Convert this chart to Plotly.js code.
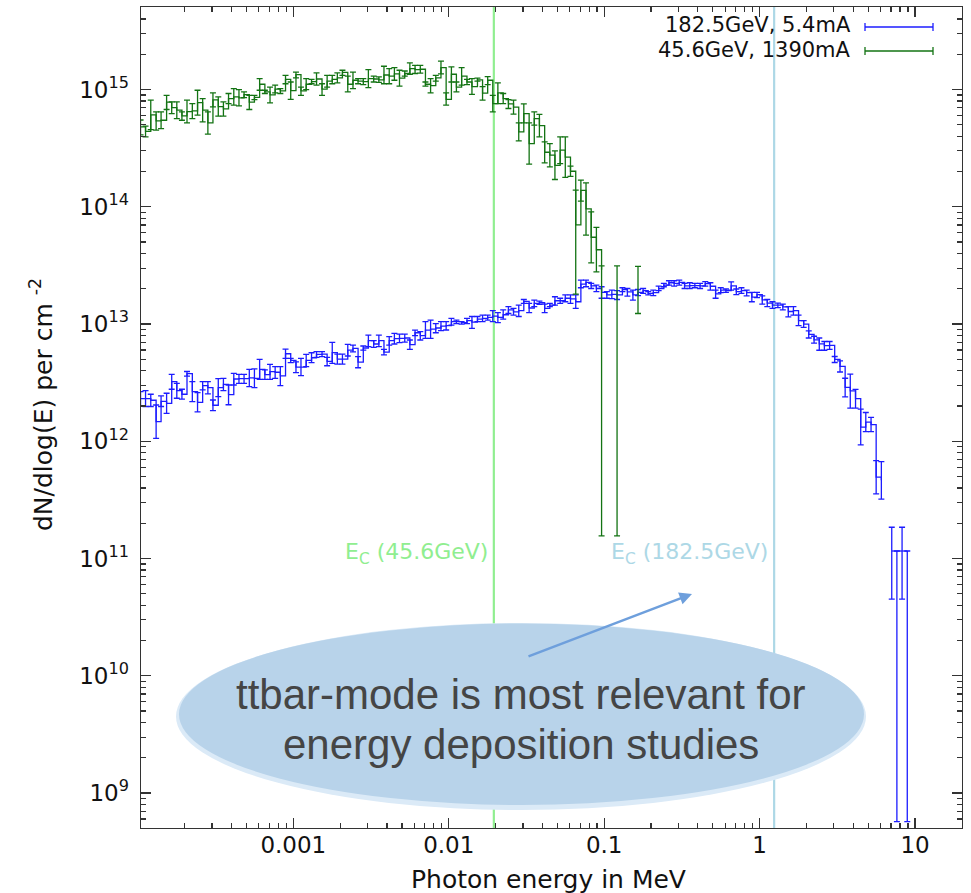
<!DOCTYPE html>
<html><head><meta charset="utf-8">
<script src="https://cdn.plot.ly/plotly-3.0.1.min.js"></script>
<style>html,body{margin:0;padding:0;background:#fff}#chart{width:971px;height:893px}</style>
</head><body><div id="chart"></div>
<script>
// Histogram bin centres (MeV), 30 log bins per decade
const energyMeV = [
1.04e-4,1.12e-4,1.21e-4,1.31e-4,1.41e-4,1.53e-4,1.65e-4,1.78e-4,1.92e-4,2.07e-4,2.24e-4,2.42e-4,2.61e-4,2.82e-4,3.04e-4,3.29e-4,3.55e-4,3.83e-4,4.14e-4,4.47e-4,4.82e-4,5.21e-4,5.62e-4,6.07e-4,6.56e-4,7.08e-4,7.64e-4,8.25e-4,8.91e-4,9.62e-4,
1.04e-3,1.12e-3,1.21e-3,1.31e-3,1.41e-3,1.53e-3,1.65e-3,1.78e-3,1.92e-3,2.07e-3,2.24e-3,2.42e-3,2.61e-3,2.82e-3,3.04e-3,3.29e-3,3.55e-3,3.83e-3,4.14e-3,4.47e-3,4.82e-3,5.21e-3,5.62e-3,6.07e-3,6.56e-3,7.08e-3,7.64e-3,8.25e-3,8.91e-3,9.62e-3,
1.04e-2,1.12e-2,1.21e-2,1.31e-2,1.41e-2,1.53e-2,1.65e-2,1.78e-2,1.92e-2,2.07e-2,2.24e-2,2.42e-2,2.61e-2,2.82e-2,3.04e-2,3.29e-2,3.55e-2,3.83e-2,4.14e-2,4.47e-2,4.82e-2,5.21e-2,5.62e-2,6.07e-2,6.56e-2,7.08e-2,7.64e-2,8.25e-2,8.91e-2,9.62e-2,
1.04e-1,1.12e-1,1.21e-1,1.31e-1,1.41e-1,1.53e-1,1.65e-1,1.78e-1,1.92e-1,2.07e-1,2.24e-1,2.42e-1,2.61e-1,2.82e-1,3.04e-1,3.29e-1,3.55e-1,3.83e-1,4.14e-1,4.47e-1,4.82e-1,5.21e-1,5.62e-1,6.07e-1,6.56e-1,7.08e-1,7.64e-1,8.25e-1,8.91e-1,9.62e-1,
1.04,1.12,1.21,1.31,1.41,1.53,1.65,1.78,1.92,2.07,2.24,2.42,2.61,2.82,3.04,3.29,3.55,3.83,4.14,4.47,4.82,5.21,5.62,6.07,6.56,7.08,7.64,8.25,8.91
];

// 182.5 GeV, 5.4 mA (blue)
const blueVal = [
2.31e12,2.31e12,2.24e12,1.47e12,2.19e12,2.11e12,3.23e12,2.71e12,2.52e12,3.78e12,
2.65e12,2.15e12,2.98e12,2.87e12,2.03e12,2.87e12,3.06e12,2.50e12,3.40e12,3.42e12,
3.42e12,3.47e12,3.44e12,4.11e12,3.70e12,3.93e12,3.88e12,3.61e12,5.58e12,4.90e12,
4.30e12,4.30e12,4.90e12,5.16e12,5.52e12,5.55e12,4.81e12,5.70e12,5.03e12,5.03e12,
6.00e12,6.21e12,4.74e12,6.25e12,7.21e12,6.76e12,7.21e12,5.77e12,7.21e12,7.50e12,
7.55e12,7.60e12,6.67e12,8.43e12,7.96e12,8.89e12,9.06e12,9.25e12,9.6e12,9.7e12,
1.05e13,1.05e13,1.03e13,1.07e13,1.04e13,1.10e13,1.12e13,1.14e13,1.17e13,1.14e13,
1.20e13,1.32e13,1.27e13,1.30e13,1.56e13,1.37e13,1.50e13,1.52e13,1.36e13,1.45e13,
1.58e13,1.58e13,1.66e13,1.64e13,1.55e13,2.19e13,2.27e13,2.12e13,2.01e13,1.86e13,
1.77e13,1.79e13,1.77e13,1.97e13,1.88e13,1.77e13,1.86e13,1.93e13,1.83e13,1.85e13,
2.01e13,2.15e13,2.25e13,2.22e13,2.27e13,2.12e13,2.13e13,2.13e13,2.12e13,2.21e13,
2.10e13,1.81e13,1.95e13,1.93e13,2.12e13,1.89e13,1.93e13,1.85e13,1.70e13,1.78e13,
1.61e13,1.51e13,1.45e13,1.45e13,1.40e13,1.28e13,1.30e13,1.07e13,1.00e13,8.15e12,
7.34e12,6.78e12,6.55e12,6.59e12,5.00e12,4.36e12,2.88e12,2.69e12,2.31e12,1.32e12,
1.46e12,1.39e12,4.95e11,4.65e11,null,1.16e11,1.16e11,1.16e11,1.16e11];
const blueHi = [
2.65e12,2.71e12,2.52e12,2.04e12,2.44e12,2.57e12,3.72e12,3.12e12,2.78e12,3.94e12,
3.23e12,2.60e12,3.23e12,3.23e12,2.25e12,3.42e12,3.44e12,3.02e12,3.80e12,3.72e12,
3.72e12,4.11e12,4.14e12,4.99e12,4.06e12,4.53e12,4.33e12,4.33e12,6.12e12,5.10e12,
4.76e12,5.10e12,5.52e12,5.69e12,5.82e12,5.82e12,5.20e12,6.97e12,5.55e12,5.55e12,
6.70e12,6.62e12,5.27e12,6.50e12,8.06e12,7.21e12,8.06e12,6.08e12,7.80e12,8.33e12,
8.21e12,8.21e12,7.31e12,8.89e12,8.61e12,1.05e13,1.08e13,1.01e13,1.05e13,1.05e13,
1.12e13,1.08e13,1.05e13,1.12e13,1.16e13,1.16e13,1.19e13,1.19e13,1.30e13,1.25e13,
1.32e13,1.41e13,1.36e13,1.45e13,1.62e13,1.50e13,1.60e13,1.57e13,1.48e13,1.50e13,
1.71e13,1.66e13,1.77e13,1.77e13,1.77e13,2.37e13,2.37e13,2.22e13,2.15e13,2.08e13,
1.89e13,1.95e13,1.93e13,2.04e13,2.01e13,1.95e13,1.97e13,2.01e13,1.89e13,1.95e13,
2.11e13,2.22e13,2.34e13,2.34e13,2.37e13,2.22e13,2.25e13,2.22e13,2.22e13,2.30e13,
2.25e13,1.95e13,2.04e13,1.99e13,2.29e13,1.99e13,2.04e13,1.95e13,1.86e13,1.86e13,
1.74e13,1.62e13,1.55e13,1.51e13,1.48e13,1.41e13,1.41e13,1.19e13,1.07e13,8.73e12,
7.87e12,7.60e12,7.10e12,7.10e12,5.29e12,4.86e12,3.45e12,3.74e12,2.77e12,1.88e12,
1.76e12,1.60e12,6.84e11,6.70e11,null,1.85e11,1.16e11,1.85e11,1.16e11];
const blueLo = [
2.00e12,1.98e12,1.98e12,1.06e12,1.98e12,1.73e12,2.78e12,2.33e12,2.29e12,3.60e12,
2.18e12,1.78e12,2.74e12,2.54e12,1.83e12,2.40e12,2.71e12,2.05e12,3.02e12,3.12e12,
3.12e12,2.93e12,2.87e12,3.38e12,3.38e12,3.38e12,3.44e12,2.98e12,5.10e12,4.68e12,
3.85e12,3.63e12,4.33e12,4.68e12,5.20e12,5.27e12,4.41e12,4.62e12,4.56e12,4.56e12,
5.34e12,5.80e12,4.24e12,6.00e12,6.41e12,6.33e12,6.41e12,5.45e12,6.62e12,6.76e12,
6.93e12,7.02e12,6.08e12,7.96e12,7.31e12,7.55e12,7.55e12,8.43e12,8.8e12,8.9e12,
9.8e12,1.01e13,1.00e13,1.01e13,9.2e12,1.05e13,1.05e13,1.08e13,1.05e13,1.03e13,
1.10e13,1.23e13,1.19e13,1.16e13,1.50e13,1.25e13,1.41e13,1.47e13,1.25e13,1.41e13,
1.45e13,1.50e13,1.55e13,1.50e13,1.36e13,2.04e13,2.08e13,2.01e13,1.89e13,1.66e13,
1.66e13,1.65e13,1.62e13,1.89e13,1.73e13,1.60e13,1.75e13,1.83e13,1.77e13,1.75e13,
1.93e13,2.08e13,2.15e13,2.11e13,2.15e13,2.01e13,2.01e13,2.04e13,2.01e13,2.11e13,
1.95e13,1.66e13,1.85e13,1.86e13,1.95e13,1.78e13,1.83e13,1.74e13,1.55e13,1.68e13,
1.48e13,1.41e13,1.36e13,1.38e13,1.32e13,1.15e13,1.19e13,9.69e12,9.36e12,7.60e12,
6.87e12,5.98e12,5.98e12,6.07e12,4.70e12,3.90e12,2.39e12,1.92e12,1.92e12,9.33e11,
1.21e12,1.21e12,3.56e11,3.21e11,null,4.51e10,5.7e8,4.51e10,5.7e8];

// 45.6 GeV, 1390 mA (green)
const greenVal = [
4.8e14,4.39e14,6.08e14,5.40e14,5.47e14,7.80e14,7.02e14,6.67e14,5.97e14,6.49e14,
6.58e14,7.75e14,6.67e14,5.20e14,8.16e14,7.16e14,6.85e14,8.37e14,8.65e14,8.48e14,
9.06e14,7.80e14,8.59e14,1.11e15,9.55e14,9.0e14,1.01e15,9.73e14,1.22e15,9.8e14,
1.34e15,9.73e14,1.11e15,1.17e15,1.23e15,1.01e15,1.18e15,1.22e15,1.26e15,1.40e15,
1.11e15,1.20e15,1.18e15,1.17e15,1.24e15,1.23e15,1.21e15,1.33e15,1.30e15,1.36e15,
1.25e15,1.37e15,1.51e15,1.48e15,1.49e15,1.11e15,1.08e15,1.26e15,1.54e15,8.26e14,
1.35e15,1.05e15,1.30e15,1.16e15,1.06e15,1.21e15,9.31e14,1.20e15,7.59e14,9.37e14,
8.37e14,7.54e14,7.07e14,4.36e14,6.24e14,3.46e14,5.66e14,4.93e14,2.92e14,2.76e14,
2.26e14,3.04e14,2.65e14,2.01e14,7.0e13,1.38e14,9.6e13,5.5e13,4.3e13,2.9e13,
null,null,2.9e13,null,null,null,2.2e13];
const greenHi = [
5.5e14,4.87e14,8.11e14,6.44e14,6.44e14,8.93e14,7.85e14,7.85e14,6.44e14,8.11e14,
7.59e14,9.86e14,8.37e14,6.44e14,9.37e14,8.65e14,7.85e14,9.25e14,1.02e15,9.98e14,
9.55e14,8.93e14,8.93e14,1.24e15,9.86e14,1.05e15,1.09e15,1.02e15,1.32e15,1.16e15,
1.41e15,1.05e15,1.24e15,1.22e15,1.39e15,1.12e15,1.32e15,1.32e15,1.39e15,1.46e15,
1.30e15,1.41e15,1.24e15,1.24e15,1.48e15,1.30e15,1.28e15,1.58e15,1.51e15,1.54e15,
1.46e15,1.44e15,1.69e15,1.61e15,1.61e15,1.16e15,1.24e15,1.32e15,1.75e15,9.37e14,
1.56e15,1.16e15,1.54e15,1.22e15,1.24e15,1.25e15,1.06e15,1.29e15,8.93e14,1.14e15,
9.25e14,8.21e14,8.11e14,5.2e14,7.55e14,5.2e14,6.44e14,6.15e14,3.58e14,3.46e14,
3.00e14,3.94e14,3.94e14,2.22e14,1.39e14,1.69e14,1.60e14,9.06e13,6.67e13,3.14e13,
null,null,3.14e13,null,null,null,3.1e13];
const greenLo = [
4.1e14,3.94e14,4.56e14,4.50e14,4.65e14,6.76e14,6.24e14,5.66e14,5.47e14,5.20e14,
5.66e14,6.04e14,5.30e14,4.16e14,7.11e14,5.93e14,5.93e14,7.59e14,7.35e14,7.25e14,
8.54e14,6.76e14,8.21e14,9.86e14,9.25e14,7.7e14,9.37e14,9.25e14,1.12e15,8.26e14,
1.26e15,8.93e14,9.98e14,1.12e15,1.09e15,8.93e14,1.05e15,1.12e15,1.14e15,1.32e15,
9.55e14,1.02e15,1.12e15,1.10e15,1.04e15,1.16e15,1.15e15,1.12e15,1.12e15,1.20e15,
1.07e15,1.30e15,1.35e15,1.37e15,1.38e15,1.07e15,9.37e14,1.18e15,1.36e15,7.35e14,
1.16e15,9.55e14,1.09e15,1.10e15,9.1e14,1.18e15,8.11e14,1.10e15,6.44e14,7.59e14,
7.59e14,6.89e14,6.16e14,3.65e14,5.20e14,2.31e14,4.97e14,3.94e14,2.37e14,2.19e14,
1.71e14,2.33e14,1.78e14,1.82e14,1.8e13,1.12e14,5.73e13,3.33e13,2.79e13,1.56e11,
null,null,1.56e11,null,null,null,1.23e13];

const seriesNames = ['182.5GeV, 5.4mA', '45.6GeV, 1390mA'];
const criticalEnergyMeV = [0.0195, 1.24];
const criticalLabels = ['E<sub>C</sub> (45.6GeV)', 'E<sub>C</sub> (182.5GeV)'];
const xTickVals = [0.001, 0.01, 0.1, 1, 10];
const xTickText = ['0.001', '0.01', '0.1', '1', '10'];
const yTickVals = [1e9, 1e10, 1e11, 1e12, 1e13, 1e14, 1e15];
const yTickText = ['10<sup>9</sup>','10<sup>10</sup>','10<sup>11</sup>','10<sup>12</sup>','10<sup>13</sup>','10<sup>14</sup>','10<sup>15</sup>'];
const noteLines = ['ttbar-mode is most relevant for', 'energy deposition studies'];

const BLUE = '#1c1cff', GREEN = '#137313';
const XR = [-3.980, 1.302], YR = [8.702, 15.704];
const W = 971, H = 893, ML = 141, MR = 9, MT = 7, MB = 65;
const PW = W - ML - MR, PH = H - MT - MB;
const px = p => (p - ML) / PW;           // pixel -> paper x
const py = p => (H - MB - p) / PH;       // pixel -> paper y
const lx = v => (Math.log10(v) - XR[0]) / (XR[1] - XR[0]);

function errs(val, hi, lo) {
  return {
    type: 'data', symmetric: false,
    array: val.map((v, i) => v == null ? null : hi[i] - v),
    arrayminus: val.map((v, i) => v == null ? null : v - lo[i])
  };
}
function minorTicks(d0, d1) {
  const t = [];
  for (let d = d0; d <= d1; d++) for (let m = 2; m <= 9; m++) t.push(m * Math.pow(10, d));
  return t;
}

const traces = [
  { x: energyMeV, y: blueVal, mode: 'lines', name: seriesNames[0], connectgaps: false,
    line: { shape: 'hv', color: BLUE, width: 1.3 },
    error_y: Object.assign(errs(blueVal, blueHi, blueLo), { color: BLUE, thickness: 1.3, width: 3 }) },
  { x: energyMeV.slice(0, greenVal.length), y: greenVal, mode: 'lines', name: seriesNames[1], connectgaps: false,
    line: { shape: 'hv', color: GREEN, width: 1.3 },
    error_y: Object.assign(errs(greenVal, greenHi, greenLo), { color: GREEN, thickness: 1.3, width: 3 }) }
];

const axisCommon = {
  type: 'log', ticks: 'inside', ticklen: 10, tickwidth: 1.2, tickcolor: '#333',
  showline: true, linecolor: '#333', linewidth: 1.4, mirror: 'allticks',
  showgrid: false, zeroline: false, tickmode: 'array'
};

const shapes = [];
const vcol = ['#90ee90', '#add8e6'];
criticalEnergyMeV.forEach((e, i) => shapes.push({
  type: 'line', xref: 'paper', yref: 'paper', x0: lx(e), x1: lx(e), y0: 0, y1: 1,
  line: { color: vcol[i], width: 2.2 }, layer: 'below'
}));
// legend samples (gnuplot style: text then errorbar sample)
[[27, BLUE], [51, GREEN]].forEach(([yy, c]) => {
  shapes.push({ type: 'line', xref: 'paper', yref: 'paper', x0: px(865), x1: px(933), y0: py(yy), y1: py(yy), line: { color: c, width: 1.3 } });
  [865, 933].forEach(xx => shapes.push({ type: 'line', xref: 'paper', yref: 'paper', x0: px(xx), x1: px(xx), y0: py(yy - 4), y1: py(yy + 4), line: { color: c, width: 1.3 } }));
});
// note bubble
shapes.push({ type: 'circle', xref: 'paper', yref: 'paper', x0: px(176), x1: px(866), y0: py(810), y1: py(623),
  fillcolor: '#dbeaf7', line: { width: 0 }, layer: 'above' });
shapes.push({ type: 'circle', xref: 'paper', yref: 'paper', x0: px(179), x1: px(864), y0: py(805), y1: py(623.5),
  fillcolor: '#b8d3ea', line: { width: 0 }, layer: 'above' });

const annotations = [
  { text: seriesNames[0], xref: 'paper', yref: 'paper', x: px(853), y: py(25), xanchor: 'right', yanchor: 'middle', showarrow: false, font: { size: 21, color: '#111' } },
  { text: seriesNames[1], xref: 'paper', yref: 'paper', x: px(853), y: py(50), xanchor: 'right', yanchor: 'middle', showarrow: false, font: { size: 21, color: '#111' } },
  { text: criticalLabels[0], xref: 'paper', yref: 'paper', x: lx(criticalEnergyMeV[0]), xshift: -4, y: py(553), xanchor: 'right', yanchor: 'middle', showarrow: false, font: { size: 22, color: vcol[0] } },
  { text: criticalLabels[1], xref: 'paper', yref: 'paper', x: lx(criticalEnergyMeV[1]), xshift: -4, y: py(553), xanchor: 'right', yanchor: 'middle', showarrow: false, font: { size: 22, color: vcol[1] } },
  { text: 'Photon energy in MeV', xref: 'paper', yref: 'paper', x: px(548), y: py(879), xanchor: 'center', yanchor: 'middle', showarrow: false, font: { size: 25, color: '#111' } },
  { text: 'dN/dlog(E) per cm <sup>-2</sup>', xref: 'paper', yref: 'paper', x: px(42), y: py(405), textangle: -90, xanchor: 'center', yanchor: 'middle', showarrow: false, font: { size: 25, color: '#111' } },
  { text: noteLines[0], xref: 'paper', yref: 'paper', x: px(521), y: py(694), xanchor: 'center', yanchor: 'middle', showarrow: false, font: { family: 'Liberation Sans, Arial, sans-serif', size: 42, color: '#454545' } },
  { text: noteLines[1], xref: 'paper', yref: 'paper', x: px(521), y: py(744), xanchor: 'center', yanchor: 'middle', showarrow: false, font: { family: 'Liberation Sans, Arial, sans-serif', size: 42, color: '#454545' } },
  { text: '', xref: 'paper', yref: 'paper', x: px(692), y: py(594), showarrow: true, ax: -165, ay: 63, axref: 'pixel', ayref: 'pixel',
    arrowhead: 2, arrowsize: 1, arrowwidth: 2.5, arrowcolor: '#6e9fdc' }
];

const layout = {
  width: W, height: H, margin: { l: ML, r: MR, t: MT, b: MB },
  paper_bgcolor: '#fff', plot_bgcolor: '#fff', showlegend: false,
  font: { family: 'DejaVu Sans, sans-serif', color: '#111' },
  xaxis: Object.assign({}, axisCommon, {
    range: XR, tickvals: xTickVals, ticktext: xTickText, tickfont: { size: 23, color: '#111' }, ticklabelstandoff: -4,
    minor: { tickmode: 'array', tickvals: minorTicks(-4, 1), ticks: 'inside', ticklen: 5, tickwidth: 1.2, tickcolor: '#333', showgrid: false }
  }),
  yaxis: Object.assign({}, axisCommon, {
    range: YR, tickvals: yTickVals, ticktext: yTickText, tickfont: { size: 23, color: '#111' }, ticklabelstandoff: 6,
    minor: { tickmode: 'array', tickvals: minorTicks(8, 15), ticks: 'inside', ticklen: 5, tickwidth: 1.2, tickcolor: '#333', showgrid: false }
  }),
  shapes: shapes, annotations: annotations
};

Plotly.newPlot('chart', traces, layout, { displayModeBar: false, staticPlot: true });
</script></body></html>
